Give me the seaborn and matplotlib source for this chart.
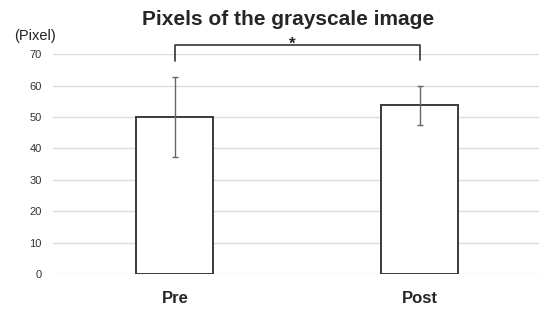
import pandas as pd
import matplotlib
matplotlib.use('Agg')
import matplotlib.pyplot as plt
import seaborn as sns

# values
groups = ['Pre', 'Post']
means = [50.0, 53.7]
sds = [12.8, 6.2]
y_ticks = [0, 10, 20, 30, 40, 50, 60, 70]

sig_y = 73
sig_leg = [67.8, 68.0]

df = pd.DataFrame({'group': groups, 'pixels': means})

sns.set_style('white')
plt.rcParams['font.family'] = ['Liberation Sans', 'DejaVu Sans']

fig = plt.figure(figsize=(5.39, 3.09), dpi=100)
ax = fig.add_axes([0.098, 0.113, 0.902, 0.712])

sns.barplot(data=df, x='group', y='pixels', ax=ax, errorbar=None,
            color='white', edgecolor='#3a3a3a', linewidth=1.4, width=0.314, zorder=3)
ax.errorbar(range(len(groups)), means, yerr=sds, fmt='none',
            ecolor='#666666', elinewidth=1.0, capsize=2.5, capthick=1.0, zorder=4)

# significance bracket
ax.plot([0, 0, 1, 1], [sig_leg[0], sig_y, sig_y, sig_leg[1]], color='#333333',
        lw=1.2, clip_on=False, zorder=5)
ax.text(0.48, sig_y - 2.4, '*', ha='center', va='bottom', fontsize=12,
        fontweight='bold', color='#222222', clip_on=False)

ax.set_ylim(0, 70)
ax.set_xlim(-0.498, 1.486)
ax.set_yticks(y_ticks)
ax.yaxis.grid(True, color='#dcdcdc', lw=1.0, zorder=0)
ax.set_axisbelow(True)
for s in ax.spines.values():
    s.set_visible(False)
ax.tick_params(axis='y', labelsize=8, labelcolor='#333333', length=0, pad=8)
ax.tick_params(axis='x', labelsize=12, length=0, pad=12)
for lbl in ax.get_xticklabels():
    lbl.set_fontweight('bold')
ax.set_xlabel('')
ax.set_ylabel('')

fig.text(0.026, 0.862, '(Pixel)', fontsize=10.5, color='#222222', ha='left', va='bottom')
fig.text(0.535, 0.905, 'Pixels of the grayscale image', fontsize=15,
         fontweight='bold', ha='center', va='bottom')

fig.savefig('out.png', dpi=100)
